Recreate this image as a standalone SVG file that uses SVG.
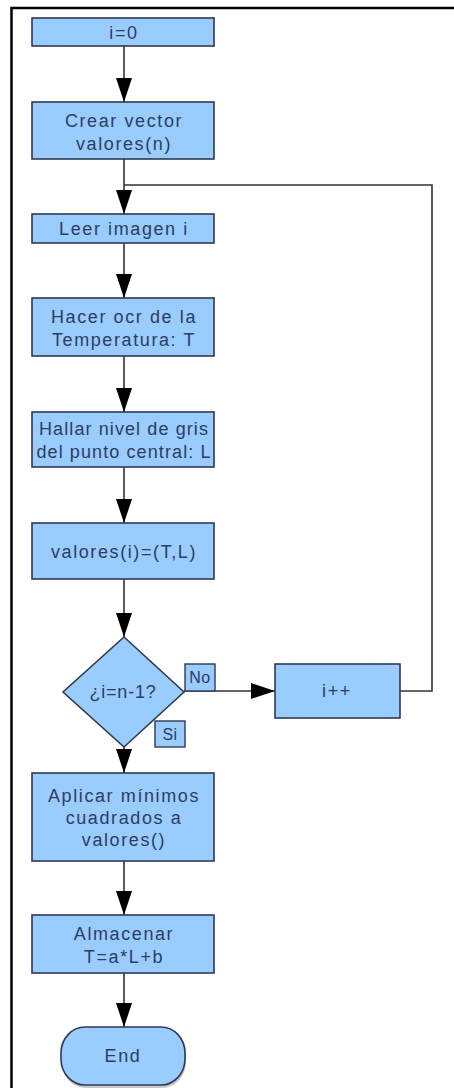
<svg xmlns="http://www.w3.org/2000/svg" width="454" height="1088" viewBox="0 0 454 1088">
  <defs>
    <style>
      .box { fill: #99ccff; stroke: #2e3a52; stroke-width: 1.6; }
      .lbl { fill: #99ccff; stroke: #2e3a52; stroke-width: 1.4; }
      .txt { font-family: "Liberation Sans", Arial, sans-serif; font-size: 18px; letter-spacing: 1.6px; fill: #2f3d5c; text-anchor: middle; }
      .small { font-size: 16px; letter-spacing: 0.5px; }
      .wire { fill: none; stroke: #333333; stroke-width: 1.6; }
      .frame { fill: none; stroke: #000000; stroke-width: 2.5; }
    </style>
    <marker id="arrow" viewBox="0 0 24 16" refX="24" refY="8" markerWidth="24" markerHeight="16" markerUnits="userSpaceOnUse" orient="auto">
      <path d="M0,0 L24,8 L0,16 Z" fill="#000000"/>
    </marker>
  </defs>

  <rect width="454" height="1088" fill="#ffffff"/>

  <!-- page frame (top and left edges) -->
  <path class="frame" d="M11.5,1088 V8 H454"/>

  <!-- connectors -->
  <g id="connectors">
    <line class="wire" x1="124" y1="46" x2="124" y2="102" marker-end="url(#arrow)"/>
    <line class="wire" x1="124" y1="159" x2="124" y2="214" marker-end="url(#arrow)"/>
    <line class="wire" x1="124" y1="243" x2="124" y2="298" marker-end="url(#arrow)"/>
    <line class="wire" x1="124" y1="356" x2="124" y2="412" marker-end="url(#arrow)"/>
    <line class="wire" x1="124" y1="467" x2="124" y2="523" marker-end="url(#arrow)"/>
    <line class="wire" x1="124" y1="579" x2="124" y2="637" marker-end="url(#arrow)"/>
    <line class="wire" x1="184" y1="691" x2="275" y2="691" marker-end="url(#arrow)"/>
    <polyline class="wire" points="400,691 432,691 432,185 124,185"/>
    <line class="wire" x1="124" y1="747" x2="124" y2="773" marker-end="url(#arrow)"/>
    <line class="wire" x1="124" y1="861" x2="124" y2="915" marker-end="url(#arrow)"/>
    <line class="wire" x1="124" y1="973" x2="124" y2="1027" marker-end="url(#arrow)"/>
  </g>

  <g id="init">
    <rect class="box" x="32" y="18" width="182" height="28"/>
    <text class="txt" x="124" y="38.5">i=0</text>
  </g>

  <g id="create-vector">
    <rect class="box" x="32" y="102" width="182" height="57"/>
    <text class="txt" x="124" y="127">Crear vector</text>
    <text class="txt" x="124" y="150">valores(n)</text>
  </g>

  <g id="read-image">
    <rect class="box" x="32" y="214" width="182" height="29"/>
    <text class="txt" x="124" y="235">Leer imagen i</text>
  </g>

  <g id="ocr">
    <rect class="box" x="32" y="298" width="182" height="58"/>
    <text class="txt" x="124" y="323">Hacer ocr de la</text>
    <text class="txt" x="124" y="346">Temperatura: T</text>
  </g>

  <g id="grey-level">
    <rect class="box" x="32" y="412" width="182" height="55"/>
    <text class="txt" x="124" y="435" style="letter-spacing:1.1px">Hallar nivel de gris</text>
    <text class="txt" x="124" y="458" style="letter-spacing:1.1px">del punto central: L</text>
  </g>

  <g id="store-pair">
    <rect class="box" x="32" y="523" width="182" height="56"/>
    <text class="txt" x="124" y="557.5">valores(i)=(T,L)</text>
  </g>

  <g id="decision">
    <polygon class="box" points="124,637 184,692 124,747 63,692"/>
    <text class="txt" x="123" y="698" style="letter-spacing:0.8px">¿i=n-1?</text>
  </g>

  <g id="label-no">
    <rect class="lbl" x="185" y="664" width="30" height="27"/>
    <text class="txt small" x="200" y="683">No</text>
  </g>

  <g id="label-si">
    <rect class="lbl" x="155" y="721" width="30" height="26"/>
    <text class="txt small" x="170" y="740">Si</text>
  </g>

  <g id="increment">
    <rect class="box" x="275" y="664" width="125" height="54"/>
    <text class="txt" x="337" y="697">i++</text>
  </g>

  <g id="least-squares">
    <rect class="box" x="32" y="773" width="182" height="88"/>
    <text class="txt" x="124" y="802">Aplicar mínimos</text>
    <text class="txt" x="124" y="824">cuadrados a</text>
    <text class="txt" x="124" y="846">valores()</text>
  </g>

  <g id="save-fit">
    <rect class="box" x="32" y="915" width="182" height="58"/>
    <text class="txt" x="124" y="940">Almacenar</text>
    <text class="txt" x="124" y="963">T=a*L+b</text>
  </g>

  <g id="end">
    <rect x="62" y="1030" width="124" height="58" rx="24" ry="26" fill="#c8c8c8"/>
    <rect class="box" x="61" y="1027" width="124" height="58" rx="24" ry="26"/>
    <text class="txt" x="123" y="1062">End</text>
  </g>
</svg>
